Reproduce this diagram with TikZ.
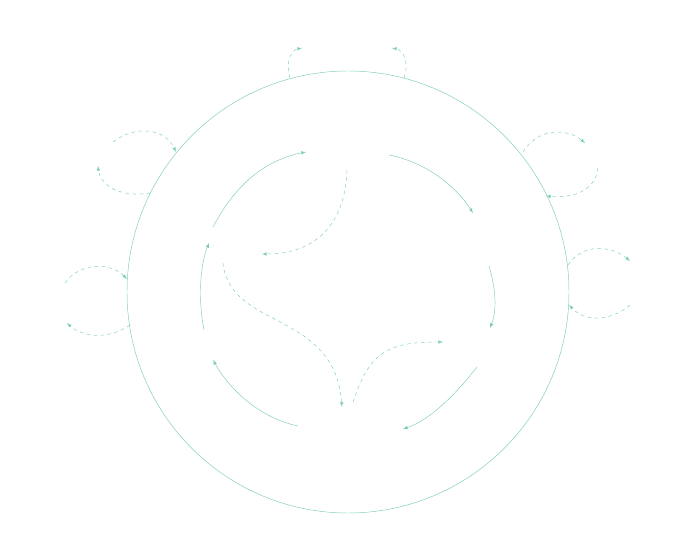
\documentclass[tikz,border=0pt]{standalone}
\definecolor{mint}{RGB}{126,206,182}
\begin{document}
\begin{tikzpicture}
    [
    x=0.03cm,y=-0.03cm,
    flow/.style={mint,-latex,thin},
    back/.style={mint,-latex,thin,dashed}
    ]
    \useasboundingbox (0,0) rectangle (696,542);
    \node (wheel) at (348,292) [circle,draw=mint,thin,minimum size=13.26cm,inner sep=0pt] {};
    % inner cycle
    \coordinate (a1) at (213,227); \coordinate (a2) at (306,152);
    \coordinate (b1) at (389,155); \coordinate (b2) at (473,213);
    \coordinate (c1) at (489,266); \coordinate (c2) at (490,328);
    \coordinate (d1) at (477,367); \coordinate (d2) at (403,429);
    \coordinate (e1) at (298,426); \coordinate (e2) at (213,360);
    \coordinate (f1) at (204,330); \coordinate (f2) at (209,243);
    \draw [flow] (a1) .. controls (235,185) and (265,160) .. (a2);
    \draw [flow] (b1) .. controls (425,162) and (455,185) .. (b2);
    \draw [flow] (c1) .. controls (496,290) and (497,310) .. (c2);
    \draw [flow] (d1) .. controls (455,395) and (430,420) .. (d2);
    \draw [flow] (e1) .. controls (260,418) and (230,390) .. (e2);
    \draw [flow] (f1) .. controls (198,300) and (200,265) .. (f2);
    % dashed paths
    \coordinate (g1) at (347,170); \coordinate (g2) at (262,254);
    \coordinate (h1) at (223,263); \coordinate (h2) at (342,407);
    \coordinate (k1) at (353,402); \coordinate (k2) at (443,342);
    \draw [back] (g1) .. controls (345,230) and (310,254) .. (g2);
    \draw [back] (h1) .. controls (230,330) and (335,310) .. (h2);
    \draw [back] (k1) .. controls (370,350) and (390,342) .. (k2);
    % outer loops
    \coordinate (t1) at (290,78); \coordinate (t2) at (302,48);
    \coordinate (t3) at (404,78); \coordinate (t4) at (392,48);
    \draw [back] (t1) .. controls (285,60) and (292,50) .. (t2);
    \draw [back] (t3) .. controls (410,60) and (402,50) .. (t4);
    \coordinate (r1) at (523,152); \coordinate (r2) at (585,143);
    \coordinate (r3) at (598,168); \coordinate (r4) at (546,196);
    \draw [back] (r1) .. controls (540,125) and (570,130) .. (r2);
    \draw [back] (r3) .. controls (595,195) and (565,198) .. (r4);
    \coordinate (s1) at (568,265); \coordinate (s2) at (630,261);
    \coordinate (s3) at (630,305); \coordinate (s4) at (569,305);
    \draw [back] (s1) .. controls (585,240) and (615,248) .. (s2);
    \draw [back] (s3) .. controls (610,322) and (585,322) .. (s4);
    \coordinate (l1) at (113,142); \coordinate (l2) at (176,152);
    \coordinate (l3) at (150,193); \coordinate (l4) at (98,166);
    \draw [back] (l1) .. controls (135,125) and (165,128) .. (l2);
    \draw [back] (l3) .. controls (120,198) and (100,185) .. (l4);
    \coordinate (m1) at (65,283); \coordinate (m2) at (127,279);
    \coordinate (m3) at (130,325); \coordinate (m4) at (67,323);
    \draw [back] (m1) .. controls (80,262) and (110,262) .. (m2);
    \draw [back] (m3) .. controls (105,342) and (80,335) .. (m4);
\end{tikzpicture}
\end{document}
